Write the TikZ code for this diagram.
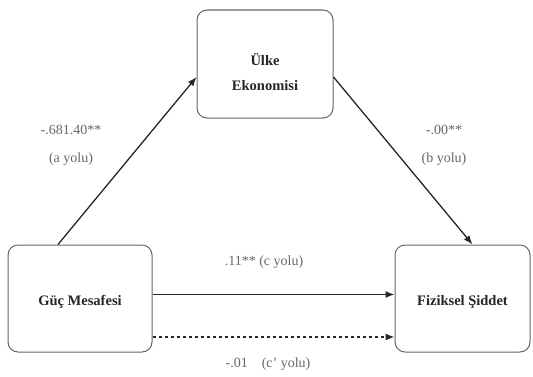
\documentclass[tikz,border=0pt]{standalone}
\usepackage{fontspec}
\setmainfont{Liberation Serif}
\usetikzlibrary{arrows.meta,calc}
\begin{document}
\begin{tikzpicture}[x=1pt,y=1pt,
  box/.style={draw=black!60, line width=1pt, rounded corners=10pt, fill=white},
  boxtext/.style={align=center, font=\fontsize{14.5}{17}\selectfont\bfseries, text=black!85},
  conn/.style={line width=1.3pt, draw=black!85, -{Latex[length=9pt,width=7pt]}},
  lbl/.style={font=\fontsize{14}{16}\selectfont, text=black!60, align=center}]
\useasboundingbox (0,0) rectangle (533,376);
\node[box, minimum width=136pt, minimum height=108pt] (top) at (265,312) {};
\node[boxtext] (toptext) at ([yshift=-8pt]top.center) {Ülke\\[8pt]Ekonomisi};
\node[box, minimum width=144pt, minimum height=107pt] (left) at (80,77.5) {};
\node[boxtext] (lefttext) at ([yshift=-3pt]left.center) {Güç Mesafesi};
\node[box, minimum width=135pt, minimum height=107pt] (right) at (462.5,77.5) {};
\node[boxtext] (righttext) at ([yshift=-3pt]right.center) {Fiziksel Şiddet};
\draw[conn] ([xshift=-22pt]left.north) -- ([yshift=-13pt]top.west);
\draw[conn] ([yshift=-13pt]top.east) -- ([xshift=10pt]right.north);
\draw[conn] ([yshift=4pt]left.east) -- ([yshift=4pt]right.west);
\draw[conn, dashed] ([yshift=-38.5pt]left.east) -- ([yshift=-38.5pt]right.west);
\node[lbl] (la) at (71,231) {-.681.40**\\[12pt](a yolu)};
\node[lbl] (lb) at (444,231) {-.00**\\[12pt](b yolu)};
\node[lbl] (lc) at (264,114) {.11** (c yolu)};
\node[lbl] (lcp) at (268,12) {-.01\quad(c' yolu)};
\end{tikzpicture}
\end{document}
